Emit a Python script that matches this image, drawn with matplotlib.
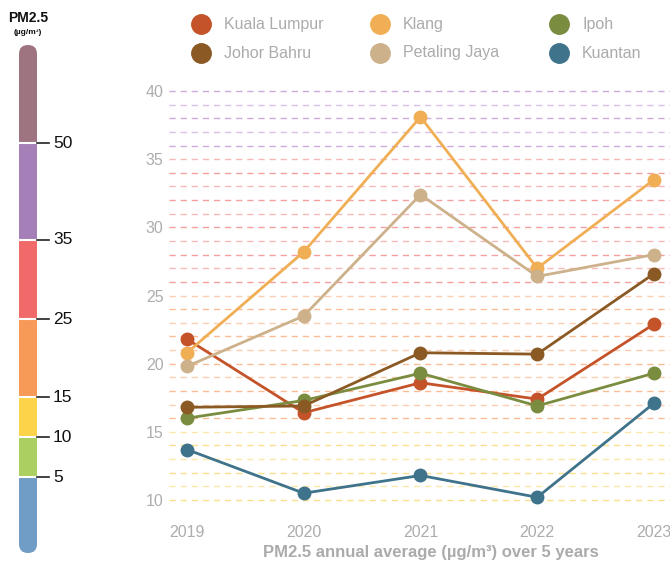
import matplotlib
matplotlib.use("Agg")
import matplotlib.pyplot as plt
from matplotlib.patches import Rectangle, FancyBboxPatch

plt.rcParams['font.family'] = ['Liberation Sans', 'DejaVu Sans']
plt.rcParams['lines.scale_dashes'] = False

years = [2019, 2020, 2021, 2022, 2023]
cities = ["Kuala Lumpur", "Klang", "Ipoh", "Johor Bahru", "Petaling Jaya", "Kuantan"]
kuala_lumpur = [21.8, 16.4, 18.6, 17.4, 22.9]
klang = [20.8, 28.2, 38.1, 27.0, 33.5]
ipoh = [16.0, 17.3, 19.3, 16.9, 19.3]
johor_bahru = [16.8, 16.9, 20.8, 20.7, 26.6]
petaling_jaya = [19.8, 23.5, 32.4, 26.4, 28.0]
kuantan = [13.7, 10.5, 11.8, 10.2, 17.1]
series = [kuala_lumpur, klang, ipoh, johor_bahru, petaling_jaya, kuantan]
colors = ["#C4532A", "#F0AE55", "#7A8C3F", "#8B5A24", "#CDB18A", "#3F738B"]
yticks = [10, 15, 20, 25, 30, 35, 40]

scale_labels = [5, 10, 15, 25, 35, 50]
scale_colors = ["#6F9DC6", "#ABCF60", "#FDD34A", "#F79A57", "#F06A6A", "#A57FB8", "#9E7480"]

W, H = 670, 563
fig = plt.figure(figsize=(W / 100, H / 100), dpi=100)

# main axes
x_left_px, x_right_px = 169, 670
ylo, yhi = 9.0, 41.0
px_per_unit = 409 / 30
top_px = 91 - (yhi - 40) * px_per_unit
bot_px = 500 + (10 - ylo) * px_per_unit
ax = fig.add_axes([x_left_px / W, 1 - bot_px / H, (x_right_px - x_left_px) / W, (bot_px - top_px) / H])
ax.set_xlim(2018.846, 2023.137)
ax.set_ylim(ylo, yhi)
for s in ax.spines.values():
    s.set_visible(False)

def grid_color(v):
    if v <= 15:
        return "#FCDD86"
    if v <= 25:
        return "#FBB98F"
    if v <= 35:
        return "#F59A9A"
    return "#C9A6DA"

for i, v in enumerate(range(10, 41)):
    ax.axhline(v, color=grid_color(v), lw=1.0, dashes=(4.5, 3.5),
               alpha=0.95 if i % 2 == 0 else 0.7, zorder=1)

for vals, c in zip(series, colors):
    ax.plot(years, vals, color=c, lw=2.0, marker='o', ms=9, zorder=3, clip_on=False)

ax.set_yticks(yticks)
ax.set_yticklabels([str(t) for t in yticks], color="#ADADAD", fontsize=11.5)
ax.set_xticks(years)
ax.set_xticklabels([str(y) for y in years], color="#ADADAD", fontsize=11.5)
ax.tick_params(length=0, axis='y', pad=4)
ax.tick_params(length=0, axis='x', pad=8)

# overlay in pixel coordinates for legend, colour scale, titles
ov = fig.add_axes([0, 0, 1, 1])
ov.set_xlim(0, W)
ov.set_ylim(H, 0)
ov.axis('off')
ov.patch.set_alpha(0)

col_x = [201, 380, 559]
row_y = [24, 53]
for i, (name, c) in enumerate(zip(cities, colors)):
    cx = col_x[i % 3]
    cy = row_y[i // 3]
    ov.plot([cx], [cy], 'o', ms=14, color=c)
    ov.text(cx + 23, cy, name, color="#ABABAB", fontsize=11.5, va='center', ha='left')

# colour scale bar
bar_x, bar_w = 19, 18
bar_top, bar_bot = 45, 553
seg_heights = [76, 40, 40, 78, 79, 97, 98]
clip = FancyBboxPatch((bar_x, bar_top), bar_w, bar_bot - bar_top,
                      boxstyle="round,pad=0,rounding_size=9", transform=ov.transData,
                      facecolor='none', edgecolor='none')
ov.add_patch(clip)
y = bar_bot
bounds = []
for h, c in zip(seg_heights, scale_colors):
    r = Rectangle((bar_x, y - h), bar_w, h, facecolor=c, edgecolor='none')
    ov.add_patch(r)
    r.set_clip_path(clip)
    y -= h
    bounds.append(y)
for yb, lab in zip(bounds[:-1], scale_labels):
    ov.plot([bar_x, bar_x + bar_w], [yb, yb], color='white', lw=1.5)
    ov.plot([bar_x + bar_w, bar_x + bar_w + 12], [yb, yb], color='#222222', lw=1.2)
    ov.text(bar_x + bar_w + 16, yb, str(lab), fontsize=12.5, va='center', ha='left', color='#111111')

ov.text(28, 18, "PM2.5", fontsize=10, fontweight='bold', ha='center', va='center', color='#111111')
ov.text(28, 33, "(µg/m³)", fontsize=6, fontweight='bold', ha='center', va='center', color='#111111')

fig.text(431 / W, 1 - 553 / H, "PM2.5 annual average (µg/m³) over 5 years",
         fontsize=12, fontweight='bold', color="#ABABAB", ha='center', va='center')

fig.savefig("out.png", dpi=100)
